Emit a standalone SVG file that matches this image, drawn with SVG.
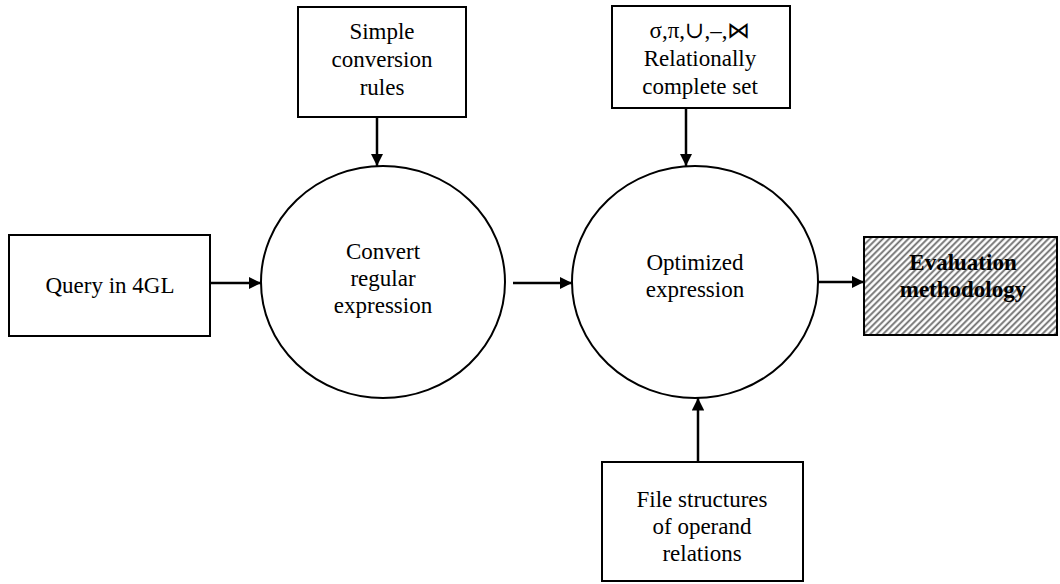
<svg xmlns="http://www.w3.org/2000/svg" width="1060" height="584" viewBox="0 0 1060 584">
<style>
.box{fill:#fff;stroke:#000;stroke-width:2}
.node{fill:#fff;stroke:#000;stroke-width:2}
.t{font-family:"Liberation Serif","DejaVu Serif",serif;font-size:23px;fill:#000;text-anchor:middle}
.b{font-weight:bold}
.edge{stroke:#000;stroke-width:2.5;fill:none;marker-end:url(#ah)}
</style>
<defs>
<marker id="ah" viewBox="0 0 10 10" refX="10" refY="5" markerWidth="5" markerHeight="5" markerUnits="strokeWidth" orient="auto">
<path d="M0,0 L10,5 L0,10 z" fill="#000"/>
</marker>
<pattern id="hatch" patternUnits="userSpaceOnUse" width="4.5" height="4.5" patternTransform="rotate(45)">
<rect width="4.5" height="4.5" fill="#fff"/>
<line x1="1.2" y1="0" x2="1.2" y2="4.5" stroke="#6a6a6a" stroke-width="1.8"/>
</pattern>
</defs>
<g id="connectors">
<line class="edge" x1="210" y1="283" x2="261" y2="283"/>
<line class="edge" x1="513" y1="283" x2="572" y2="283"/>
<line class="edge" x1="818" y1="282" x2="864" y2="282"/>
<line class="edge" x1="377" y1="117" x2="377" y2="166"/>
<line class="edge" x1="686" y1="108" x2="686" y2="166"/>
<line class="edge" x1="698" y1="462" x2="698" y2="398"/>
</g>
<g id="query">
<rect class="box" x="9" y="235" width="201" height="101"/>
<text class="t" x="110" y="293">Query in 4GL</text>
</g>
<g id="rules">
<rect class="box" x="298" y="7" width="168" height="110"/>
<text class="t" x="382" y="39">Simple</text>
<text class="t" x="382" y="67">conversion</text>
<text class="t" x="382" y="95">rules</text>
</g>
<g id="relset">
<rect class="box" x="612" y="6" width="178" height="102"/>
<text class="t" x="700" y="38">σ,π,∪,–,⋈</text>
<text class="t" x="700" y="66">Relationally</text>
<text class="t" x="700" y="94">complete set</text>
</g>
<g id="convert">
<ellipse class="node" cx="383" cy="282" rx="122" ry="116"/>
<text class="t" x="383" y="259">Convert</text>
<text class="t" x="383" y="286">regular</text>
<text class="t" x="383" y="313">expression</text>
</g>
<g id="optimized">
<ellipse class="node" cx="695" cy="282" rx="123" ry="116"/>
<text class="t" x="695" y="270">Optimized</text>
<text class="t" x="695" y="297">expression</text>
</g>
<g id="evaluation">
<rect x="864" y="237" width="193" height="98" fill="url(#hatch)" stroke="#000" stroke-width="2"/>
<text class="t b" x="963" y="270">Evaluation</text>
<text class="t b" x="963" y="297">methodology</text>
</g>
<g id="filestruct">
<rect class="box" x="602" y="462" width="201" height="119"/>
<text class="t" x="702" y="507">File structures</text>
<text class="t" x="702" y="534">of operand</text>
<text class="t" x="702" y="561">relations</text>
</g>
</svg>
